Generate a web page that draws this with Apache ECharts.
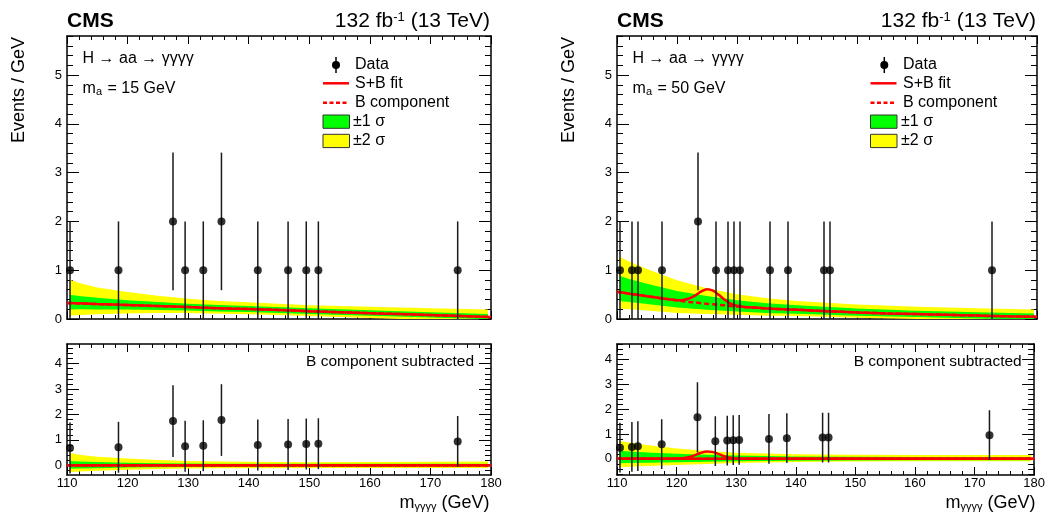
<!DOCTYPE html>
<html><head><meta charset="utf-8">
<script src="https://cdn.jsdelivr.net/npm/echarts@6/dist/echarts.min.js"></script>
<style>html,body{margin:0;padding:0;background:#fff}#c{width:1048px;height:516px}</style>
</head><body><div id="c"></div>
<script>
// ---------- tick labels ----------
const xTicks = [110, 120, 130, 140, 150, 160, 170, 180];
const yTicksUpper = [0, 1, 2, 3, 4, 5];
const yTicksLower = [0, 1, 2, 3, 4];

// ---------- Panel A: m_a = 15 GeV ----------
const dataX_A   = [110.5, 118.5, 127.5, 129.5, 132.5, 135.5, 141.5, 146.5, 149.5, 151.5, 174.5];
const dataY_A   = [1, 1, 2, 1, 1, 2, 1, 1, 1, 1, 1];
const dataErr_A = [1, 1, 1.41, 1, 1, 1.41, 1, 1, 1, 1, 1];
const subY_A    = [0.68, 0.71, 1.74, 0.75, 0.77, 1.78, 0.80, 0.82, 0.84, 0.85, 0.94];
const curveX_A  = [110, 115, 120, 125, 130, 135, 140, 145, 150, 155, 160, 165, 170, 175, 180];
const sbFit_A   = [0.33, 0.305, 0.285, 0.265, 0.245, 0.22, 0.205, 0.185, 0.16, 0.14, 0.12, 0.10, 0.08, 0.06, 0.04];
const bComp_A   = [0.33, 0.305, 0.285, 0.265, 0.245, 0.22, 0.205, 0.185, 0.16, 0.14, 0.12, 0.10, 0.08, 0.06, 0.04];
const bandX_A   = [110.5, 112, 115, 120, 125, 130, 135, 140, 150, 160, 170, 179.5];
const bandB_A   = [0.325, 0.32, 0.305, 0.285, 0.265, 0.245, 0.22, 0.205, 0.16, 0.12, 0.08, 0.045];
const up2_A     = [0.48, 0.42, 0.34, 0.27, 0.21, 0.17, 0.15, 0.14, 0.12, 0.13, 0.14, 0.15];
const up1_A     = [0.17, 0.15, 0.13, 0.10, 0.085, 0.07, 0.065, 0.06, 0.06, 0.06, 0.06, 0.06];
const dn1_A     = [-0.13, -0.12, -0.11, -0.09, -0.08, -0.07, -0.065, -0.06, -0.055, -0.055, -0.05, -0.05];
const dn2_A     = [-0.26, -0.24, -0.21, -0.17, -0.14, -0.12, -0.11, -0.11, -0.10, -0.10, -0.10, -0.10];

// ---------- Panel B: m_a = 50 GeV ----------
const dataX_B   = [110.5, 112.5, 113.5, 117.5, 123.5, 126.5, 128.5, 129.5, 130.5, 135.5, 138.5, 144.5, 145.5, 172.5];
const dataY_B   = [1, 1, 1, 1, 2, 1, 1, 1, 1, 1, 1, 1, 1, 1];
const dataErr_B = [1, 1, 1, 1, 1.41, 1, 1, 1, 1, 1, 1, 1, 1, 1];
const subY_B    = [0.45, 0.48, 0.51, 0.59, 1.67, 0.71, 0.735, 0.75, 0.76, 0.80, 0.83, 0.855, 0.855, 0.95];
const curveX_B  = [110, 112, 114, 116, 118, 119, 120, 121, 122, 123, 124, 125, 126, 127, 128, 129, 130, 131, 132, 135, 140, 145, 150, 155, 160, 165, 170, 175, 180];
const bComp_B   = [0.56, 0.52, 0.485, 0.45, 0.415, 0.40, 0.38, 0.365, 0.35, 0.34, 0.325, 0.31, 0.30, 0.29, 0.28, 0.265, 0.255, 0.245, 0.24, 0.215, 0.19, 0.16, 0.135, 0.115, 0.10, 0.085, 0.07, 0.055, 0.045];
const sbFit_B   = [0.56, 0.52, 0.485, 0.45, 0.415, 0.40, 0.385, 0.39, 0.42, 0.48, 0.56, 0.61, 0.58, 0.49, 0.39, 0.31, 0.27, 0.25, 0.24, 0.215, 0.19, 0.16, 0.135, 0.115, 0.10, 0.085, 0.07, 0.055, 0.045];
const bandX_B   = [110.5, 112, 115, 120, 125, 130, 135, 140, 150, 160, 170, 179.5];
const bandB_B   = [0.55, 0.52, 0.465, 0.375, 0.31, 0.255, 0.215, 0.19, 0.135, 0.10, 0.07, 0.045];
const up2_B     = [0.72, 0.66, 0.56, 0.42, 0.32, 0.25, 0.21, 0.18, 0.16, 0.15, 0.15, 0.15];
const up1_B     = [0.33, 0.30, 0.26, 0.20, 0.16, 0.13, 0.11, 0.09, 0.08, 0.07, 0.07, 0.07];
const dn1_B     = [-0.18, -0.17, -0.16, -0.14, -0.12, -0.10, -0.09, -0.08, -0.07, -0.06, -0.06, -0.06];
const dn2_B     = [-0.34, -0.32, -0.29, -0.25, -0.21, -0.17, -0.15, -0.13, -0.11, -0.10, -0.10, -0.10];

// ---------- layout ----------
const grids = [
  {left: 67, top: 36, width: 424, height: 283},
  {left: 67, top: 344, width: 424, height: 131},
  {left: 617, top: 36, width: 420, height: 283},
  {left: 617, top: 344, width: 420, height: 131}
];
const yRanges = [[0, 5.8], [-0.38, 4.77], [0, 5.8], [-0.65, 4.62]];
const FONT = '"Liberation Sans", Arial, Helvetica, sans-serif';
const RED = '#ff0000', GREEN = '#00ff00', YELLOW = '#ffff00';

function minorList(min, max, step) {
  const out = [];
  for (let k = Math.ceil(min / step - 1e-9); k * step <= max + 1e-9; k++) {
    const v = Math.round(k * step * 1000) / 1000;
    if (Math.abs(v - Math.round(v)) > 1e-6) out.push(v);
  }
  return out;
}

const xAxes = [], yAxes = [];
grids.forEach((g, gi) => {
  const lower = gi % 2 === 1;
  ['bottom', 'top'].forEach(pos => {
    xAxes.push({
      type: 'value', gridIndex: gi, position: pos, min: 110, max: 180, interval: 10,
      axisLine: {show: true, onZero: false, lineStyle: {color: '#000', width: 1.5}},
      axisTick: {show: true, inside: true, length: 8, lineStyle: {color: '#000', width: 1}},
      minorTick: {show: true, splitNumber: 5, length: 4, lineStyle: {color: '#000', width: 1}},
      axisLabel: {show: lower && pos === 'bottom', color: '#000', fontSize: 13, fontFamily: FONT, margin: 2,
        formatter: v => (xTicks.indexOf(v) >= 0 ? String(v) : '')},
      splitLine: {show: false}, minorSplitLine: {show: false}
    });
  });
  const [mn, mx] = yRanges[gi];
  const majors = lower ? yTicksLower : yTicksUpper;
  const minors = minorList(mn, mx, 0.2);
  ['left', 'right'].forEach(pos => {
    yAxes.push({
      type: 'value', gridIndex: gi, position: pos, min: mn, max: mx,
      axisLine: {show: true, onZero: false, lineStyle: {color: '#000', width: 1.5}},
      axisTick: {show: true, inside: true, length: 12, customValues: majors, lineStyle: {color: '#000', width: 1}},
      axisLabel: {show: pos === 'left', customValues: majors, color: '#000', fontSize: 13, fontFamily: FONT, margin: 5},
      splitLine: {show: false}
    });
    yAxes.push({
      type: 'value', gridIndex: gi, position: pos, min: mn, max: mx,
      axisLine: {show: false, onZero: false},
      axisTick: {show: true, inside: true, length: 6, customValues: minors, lineStyle: {color: '#000', width: 1}},
      axisLabel: {show: false},
      splitLine: {show: false}
    });
  });
});

function clipRect(params) {
  const cs = params.coordSys;
  return {type: 'rect', shape: {x: cs.x, y: cs.y, width: cs.width, height: cs.height}};
}

function band(gi, xs, lo, hi, color, z) {
  return {
    type: 'custom', xAxisIndex: 2 * gi, yAxisIndex: 4 * gi, silent: true, z: z, animation: false,
    data: xs.map((x, i) => [x, lo[i], hi[i]]),
    renderItem: function (params, api) {
      if (params.dataIndex !== 0) return null;
      const top = [], bot = [];
      for (let i = 0; i < xs.length; i++) {
        top.push(api.coord([xs[i], hi[i]]));
        bot.push(api.coord([xs[i], lo[i]]));
      }
      return {type: 'polygon', shape: {points: top.concat(bot.reverse())},
        style: {fill: color, stroke: null}, clipPath: clipRect(params)};
    }
  };
}

function errBars(gi, xs, ys, es) {
  return {
    type: 'custom', xAxisIndex: 2 * gi, yAxisIndex: 4 * gi, silent: true, z: 5, animation: false,
    data: xs.map((x, i) => [x, ys[i], es[i]]),
    renderItem: function (params, api) {
      const x = api.value(0), y = api.value(1), e = api.value(2);
      const p1 = api.coord([x, y - e]), p2 = api.coord([x, y + e]);
      return {type: 'line', shape: {x1: p1[0], y1: p1[1], x2: p2[0], y2: p2[1]},
        style: {stroke: '#1a1a1a', lineWidth: 1.5}, clipPath: clipRect(params)};
    }
  };
}

function points(gi, xs, ys) {
  return {type: 'scatter', xAxisIndex: 2 * gi, yAxisIndex: 4 * gi, z: 6, silent: true, animation: false,
    symbol: 'circle', symbolSize: 8, itemStyle: {color: '#000'},
    data: xs.map((x, i) => [x, ys[i]])};
}

function curve(gi, xs, ys, dashed, z) {
  return {type: 'line', xAxisIndex: 2 * gi, yAxisIndex: 4 * gi, z: z, silent: true, animation: false,
    showSymbol: false, smooth: 0.3, clip: true,
    lineStyle: {color: RED, width: 2.5, type: dashed ? [5, 3] : 'solid'},
    data: xs.map((x, i) => [x, ys[i]])};
}

function panelSeries(p, d) {
  const gu = 2 * p, gl = 2 * p + 1;
  const add = (a, b) => a.map((v, i) => v + b[i]);
  const sub = (a, b) => a.map((v, i) => v - b[i]);
  return [
    band(gu, d.bandX, add(d.bandB, d.dn2), add(d.bandB, d.up2), YELLOW, 1),
    band(gu, d.bandX, add(d.bandB, d.dn1), add(d.bandB, d.up1), GREEN, 2),
    curve(gu, d.curveX, d.b, true, 3),
    curve(gu, d.curveX, d.sb, false, 4),
    errBars(gu, d.dataX, d.dataY, d.err),
    points(gu, d.dataX, d.dataY),
    band(gl, d.bandX, d.dn2, d.up2, YELLOW, 1),
    band(gl, d.bandX, d.dn1, d.up1, GREEN, 2),
    curve(gl, d.curveX, sub(d.sb, d.sb), false, 3),
    curve(gl, d.curveX, sub(d.b, d.b), true, 3),
    curve(gl, d.curveX, sub(d.sb, d.b), false, 4),
    errBars(gl, d.dataX, d.subY, d.err),
    points(gl, d.dataX, d.subY)
  ];
}

const series = [].concat(
  panelSeries(0, {dataX: dataX_A, dataY: dataY_A, err: dataErr_A, subY: subY_A, curveX: curveX_A, sb: sbFit_A, b: bComp_A,
    bandX: bandX_A, bandB: bandB_A, up2: up2_A, up1: up1_A, dn1: dn1_A, dn2: dn2_A}),
  panelSeries(1, {dataX: dataX_B, dataY: dataY_B, err: dataErr_B, subY: subY_B, curveX: curveX_B, sb: sbFit_B, b: bComp_B,
    bandX: bandX_B, bandB: bandB_B, up2: up2_B, up1: up1_B, dn1: dn1_B, dn2: dn2_B})
);

// ---------- annotations ----------
const graphics = [];
function txt(x, y, text, opts) {
  graphics.push(Object.assign({type: 'text', x: x, y: y, silent: true, z: 100,
    style: Object.assign({text: text, fill: '#000', font: '16px ' + FONT, textAlign: 'left', textVerticalAlign: 'middle'}, opts.style || {})},
    opts.el || {}));
}
const panels = [
  {L: 67, R: 491, ma: '15', leg: [256, 269, 288], subX: 474},
  {L: 617, R: 1037, ma: '50', leg: [253.5, 267.3, 286], subX: 1021.7}
];
panels.forEach(P => {
  const L = P.L, R = P.R;
  txt(L, 21, 'CMS', {style: {font: 'bold 21px ' + FONT}});
  txt(R - 1, 21, '{n|132 fb}{p|-1}{n| (13 TeV)}', {style: {textAlign: 'right', rich: {
    n: {fontSize: 21, fontFamily: FONT, fill: '#000'},
    p: {fontSize: 13, fontFamily: FONT, fill: '#000', verticalAlign: 'top'}}}});
  txt(L + 15.6, 58.5, 'H \u2192 aa \u2192 \u03b3\u03b3\u03b3\u03b3', {});
  txt(L + 15.6, 89, '{n|m}{s|a}{n| = ' + P.ma + ' GeV}', {style: {rich: {
    n: {fontSize: 16, fontFamily: FONT, fill: '#000'},
    s: {fontSize: 11, fontFamily: FONT, fill: '#000', verticalAlign: 'bottom', padding: [0, 1, 0, 0]}}}});
  // legend
  const lx0 = L + P.leg[0], lxm = L + P.leg[1], ltx = L + P.leg[2];
  graphics.push({type: 'line', silent: true, z: 100, shape: {x1: lxm, y1: 57, x2: lxm, y2: 73}, style: {stroke: '#000', lineWidth: 1.5}});
  graphics.push({type: 'circle', silent: true, z: 101, shape: {cx: lxm, cy: 65, r: 4}, style: {fill: '#000'}});
  txt(ltx, 65, 'Data', {});
  graphics.push({type: 'line', silent: true, z: 100, shape: {x1: lx0, y1: 83.3, x2: lx0 + 26, y2: 83.3}, style: {stroke: RED, lineWidth: 2.5}});
  txt(ltx, 83.3, 'S+B fit', {});
  graphics.push({type: 'line', silent: true, z: 100, shape: {x1: lx0, y1: 102.7, x2: lx0 + 26, y2: 102.7}, style: {stroke: RED, lineWidth: 2.5, lineDash: [4, 2.5]}});
  txt(ltx, 102.7, 'B component', {});
  graphics.push({type: 'rect', silent: true, z: 100, shape: {x: lx0, y: 115, width: 26.5, height: 13.3}, style: {fill: GREEN, stroke: '#333', lineWidth: 1}});
  txt(ltx - 2, 121.5, '\u00b11 \u03c3', {});
  graphics.push({type: 'rect', silent: true, z: 100, shape: {x: lx0, y: 134.3, width: 26.5, height: 13.3}, style: {fill: YELLOW, stroke: '#333', lineWidth: 1}});
  txt(ltx - 2, 140.7, '\u00b12 \u03c3', {});
  // lower panel label
  txt(P.subX, 361.7, 'B component subtracted', {style: {textAlign: 'right', font: '15.5px ' + FONT}});
  // y title
  txt(L - 47.5, 37, 'Events / GeV', {style: {textAlign: 'right', font: '18px ' + FONT}, el: {rotation: Math.PI / 2}});
  // x title
  txt(R - 1.5, 503, '{n|m}{s|\u03b3\u03b3\u03b3\u03b3}{n| (GeV)}', {style: {textAlign: 'right', rich: {
    n: {fontSize: 18, fontFamily: FONT, fill: '#000'},
    s: {fontSize: 11, fontFamily: FONT, fill: '#000', verticalAlign: 'bottom'}}}});
});

const chart = echarts.init(document.getElementById('c'), null, {renderer: 'canvas'});
chart.setOption({
  animation: false,
  backgroundColor: '#fff',
  grid: grids.map(g => Object.assign({containLabel: false}, g)),
  xAxis: xAxes,
  yAxis: yAxes,
  series: series,
  graphic: graphics
});
</script></body></html>
